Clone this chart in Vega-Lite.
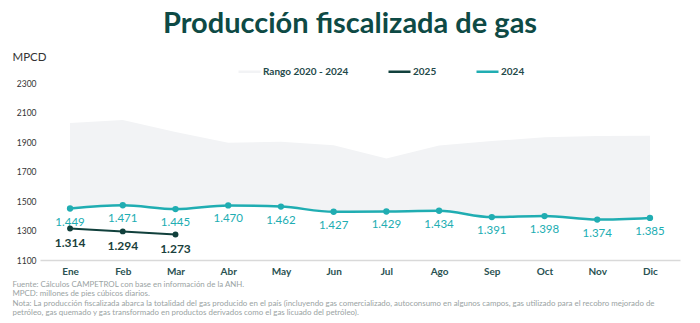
{
  "$schema": "https://vega.github.io/schema/vega-lite/v6.json",
  "width": 640,
  "height": 177,
  "autosize": {"type": "none"},
  "padding": {"left": 40, "top": 83, "right": 20, "bottom": 63},
  "background": "white",
  "config": {
    "view": {"stroke": null},
    "font": "Lato",
    "locale": {"number": {"decimal": ",", "thousands": ".", "grouping": [3], "currency": ["$", ""]}},
    "axisY": {
      "grid": false, "domain": false, "ticks": false,
      "labelFont": "Lato", "labelFontSize": 8.5, "labelColor": "#333333", "labelPadding": 4,
      "titleAngle": 0, "titleAlign": "left", "titleBaseline": "middle", "titleX": -28, "titleY": -26,
      "titleFont": "Lato", "titleFontWeight": "normal", "titleFontSize": 11.5, "titleColor": "#333333"
    }
  },
  "title": {
    "text": "Producción fiscalizada de gas",
    "font": "Lato", "fontSize": 29, "fontWeight": "bold", "color": "#0e4a45",
    "anchor": "middle", "dx": -10, "offset": 12
  },
  "data": {
    "values": [
      {"mes": "Ene", "hi": 2028, "lo": 1449, "v2024": 1449, "v2025": 1314},
      {"mes": "Feb", "hi": 2050, "lo": 1471, "v2024": 1471, "v2025": 1294},
      {"mes": "Mar", "hi": 1968, "lo": 1445, "v2024": 1445, "v2025": 1273},
      {"mes": "Abr", "hi": 1895, "lo": 1470, "v2024": 1470, "v2025": null},
      {"mes": "May", "hi": 1902, "lo": 1462, "v2024": 1462, "v2025": null},
      {"mes": "Jun", "hi": 1878, "lo": 1427, "v2024": 1427, "v2025": null},
      {"mes": "Jul", "hi": 1788, "lo": 1429, "v2024": 1429, "v2025": null},
      {"mes": "Ago", "hi": 1877, "lo": 1434, "v2024": 1434, "v2025": null},
      {"mes": "Sep", "hi": 1906, "lo": 1391, "v2024": 1391, "v2025": null},
      {"mes": "Oct", "hi": 1933, "lo": 1398, "v2024": 1398, "v2025": null},
      {"mes": "Nov", "hi": 1940, "lo": 1374, "v2024": 1374, "v2025": null},
      {"mes": "Dic", "hi": 1942, "lo": 1385, "v2024": 1385, "v2025": null}
    ]
  },
  "encoding": {
    "x": {
      "field": "mes", "type": "ordinal",
      "sort": ["Ene", "Feb", "Mar", "Abr", "May", "Jun", "Jul", "Ago", "Sep", "Oct", "Nov", "Dic"],
      "scale": {"type": "point", "padding": 0.57},
      "axis": {
        "title": [
          "Fuente: Cálculos CAMPETROL con base en información de la ANH.",
          "MPCD: millones de pies cúbicos diarios.",
          "Nota: La producción fiscalizada abarca la totalidad del gas producido en el país (incluyendo gas comercializado, autoconsumo en algunos campos, gas utilizado para el recobro mejorado de",
          "petróleo, gas quemado y gas transformado en productos derivados como el gas licuado del petróleo)."
        ],
        "labelAngle": 0, "labelFont": "Lato", "labelFontWeight": "bold", "labelFontSize": 10,
        "labelColor": "#2a5252", "labelPadding": 6,
        "domainColor": "#d9d9d9", "domainWidth": 1.5, "ticks": false, "grid": false,
        "titleFont": "Lato", "titleFontSize": 7.9, "titleFontWeight": "normal", "titleColor": "#9aa3a3",
        "titleAlign": "left", "titleAnchor": "start", "titleX": -28, "titleY": 20,
        "titleBaseline": "top", "titleLineHeight": 9.6
      }
    }
  },
  "layer": [
    {
      "mark": {"type": "area", "opacity": 1},
      "encoding": {
        "y": {"field": "hi", "type": "quantitative", "title": "MPCD", "scale": {"domain": [1100, 2300]},
              "axis": {"values": [1100, 1300, 1500, 1700, 1900, 2100, 2300], "format": "d"}},
        "y2": {"field": "lo"},
        "color": {
          "datum": "Rango 2020 - 2024",
          "type": "nominal",
          "scale": {"domain": ["Rango 2020 - 2024", "2025", "2024"], "range": ["#f2f3f5", "#11403c", "#20adb2"]},
          "legend": {
            "orient": "none", "legendX": 197, "legendY": -24, "direction": "horizontal", "title": null,
            "columnPadding": 34, "labelFont": "Lato", "labelFontWeight": "bold", "labelFontSize": 10,
            "labelColor": "#1f4a4a", "labelOffset": 1, "symbolSize": 484, "symbolStrokeWidth": 2.5,
            "symbolType": "M-1,0H1",
            "encode": {
              "symbols": {
                "update": {
                  "shape": [
                    {"test": "datum.value === 'Rango 2020 - 2024'", "value": "M-1,-0.22H0.6V0.22H-1Z"},
                    {"value": "M-1,0H1M-0.3,0A0.3,0.3,0,1,0,0.3,0A0.3,0.3,0,1,0,-0.3,0Z"}
                  ],
                  "fill": {"scale": "color", "field": "value"},
                  "stroke": [
                    {"test": "datum.value === 'Rango 2020 - 2024'", "value": "transparent"},
                    {"scale": "color", "field": "value"}
                  ],
                  "opacity": {"value": 1}
                }
              }
            }
          }
        }
      }
    },
    {
      "mark": {"type": "line", "strokeWidth": 2.5, "interpolate": "monotone"},
      "encoding": {
        "y": {"field": "v2024", "type": "quantitative", "title": "MPCD", "scale": {"domain": [1100, 2300]},
              "axis": {"values": [1100, 1300, 1500, 1700, 1900, 2100, 2300], "format": "d"}},
        "color": {"datum": "2024", "type": "nominal"}
      }
    },
    {
      "mark": {"type": "point", "filled": true, "size": 40, "opacity": 1},
      "encoding": {
        "y": {"field": "v2024", "type": "quantitative", "title": "MPCD", "scale": {"domain": [1100, 2300]},
              "axis": {"values": [1100, 1300, 1500, 1700, 1900, 2100, 2300], "format": "d"}},
        "color": {"datum": "2024", "type": "nominal"}
      }
    },
    {
      "mark": {"type": "text", "dy": 14, "baseline": "middle", "align": "center", "font": "Lato", "fontSize": 11.5, "color": "#20adb2"},
      "encoding": {
        "y": {"field": "v2024", "type": "quantitative", "title": "MPCD", "scale": {"domain": [1100, 2300]},
              "axis": {"values": [1100, 1300, 1500, 1700, 1900, 2100, 2300], "format": "d"}},
        "text": {"field": "v2024", "type": "quantitative", "format": ",.0f"}
      }
    },
    {
      "transform": [{"filter": "datum.v2025 != null"}],
      "mark": {"type": "line", "strokeWidth": 2},
      "encoding": {
        "y": {"field": "v2025", "type": "quantitative", "title": "MPCD", "scale": {"domain": [1100, 2300]},
              "axis": {"values": [1100, 1300, 1500, 1700, 1900, 2100, 2300], "format": "d"}},
        "color": {"datum": "2025", "type": "nominal"}
      }
    },
    {
      "transform": [{"filter": "datum.v2025 != null"}],
      "mark": {"type": "point", "filled": true, "size": 35, "opacity": 1},
      "encoding": {
        "y": {"field": "v2025", "type": "quantitative", "title": "MPCD", "scale": {"domain": [1100, 2300]},
              "axis": {"values": [1100, 1300, 1500, 1700, 1900, 2100, 2300], "format": "d"}},
        "color": {"datum": "2025", "type": "nominal"}
      }
    },
    {
      "transform": [{"filter": "datum.v2025 != null"}],
      "mark": {"type": "text", "dy": 15, "baseline": "middle", "align": "center", "font": "Lato", "fontSize": 12, "fontWeight": "bold", "color": "#1a3f3c"},
      "encoding": {
        "y": {"field": "v2025", "type": "quantitative", "title": "MPCD", "scale": {"domain": [1100, 2300]},
              "axis": {"values": [1100, 1300, 1500, 1700, 1900, 2100, 2300], "format": "d"}},
        "text": {"field": "v2025", "type": "quantitative", "format": ",.0f"}
      }
    }
  ]
}
